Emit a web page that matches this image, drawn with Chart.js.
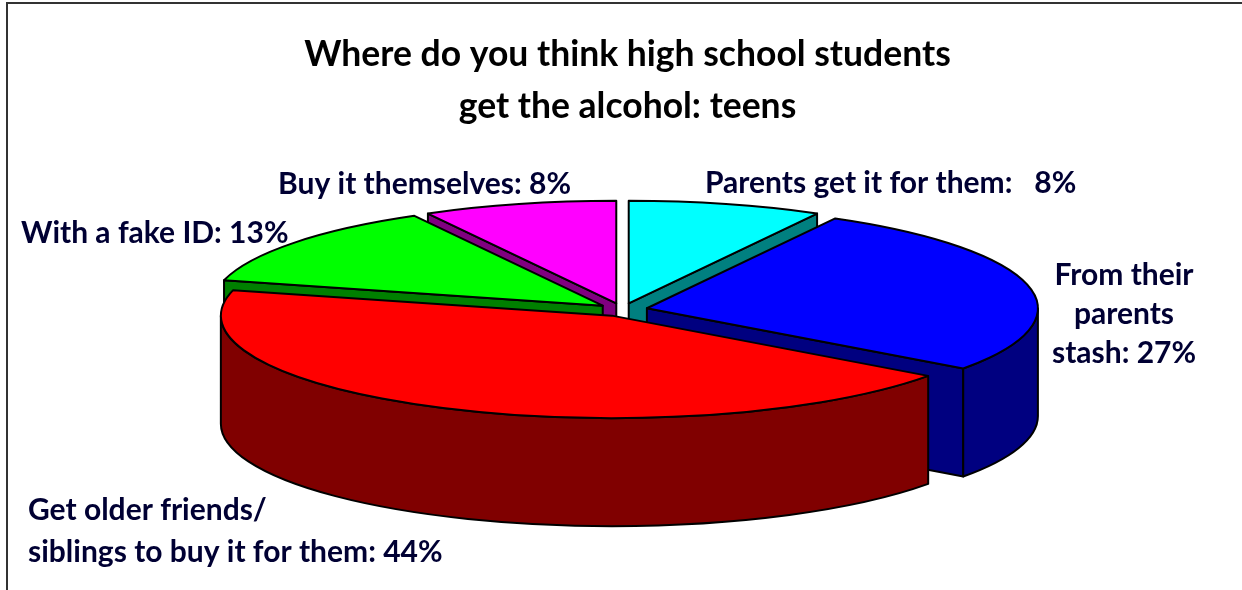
<!DOCTYPE html>
<html>
<head>
<meta charset="utf-8">
<title>Where do you think high school students get the alcohol: teens</title>
<script src="https://cdn.jsdelivr.net/npm/chart.js@4"></script>
<style>
  html, body { margin: 0; padding: 0; background: #fff; overflow: hidden; }
  #wrap { position: absolute; left: 0; top: 0; width: 1242px; height: 590px; }
</style>
</head>
<body>
<div id="wrap"><canvas id="myChart" width="1242" height="590"></canvas></div>
<script>
const titleLines = ['Where do you think high school students', 'get the alcohol: teens'];
const categories = ['Parents get it for them', 'From their parents stash', 'Get older friends/siblings to buy it for them', 'With a fake ID', 'Buy it themselves'];
const shares = [8, 27, 44, 13, 8];
const sliceColors = ['#00ffff', '#0000ff', '#ff0000', '#00ff00', '#ff00ff'];
const wallColors = ['#008080', '#000080', '#800000', '#008000', '#800080'];
const sliceCaptions = [
  ['Parents get it for them:   8%'],
  ['From their', 'parents', 'stash: 27%'],
  ['Get older friends/', 'siblings to buy it for them: 44%'],
  ['With a fake ID: 13%'],
  ['Buy it themselves: 8%']
];

// back to front, so nearer slices cover the walls of the ones behind
const paintOrder = [0, 4, 3, 1, 2];

// where the flat pie gets squashed to
const pie = { cx: 622.5, cy: 309.7, rx: 391, ry: 102.5, depth: 108, explode: 25 / 391 };

// x, first baseline, line step, text align
const captionSpots = [
  { x: 705, y: 193, step: 0, align: 'left' },
  { x: 1124, y: 285, step: 39, align: 'center' },
  { x: 28, y: 520, step: 42, align: 'left' },
  { x: 21, y: 243, step: 0, align: 'left' },
  { x: 278, y: 194, step: 0, align: 'left' }
];

const CAPTION_FONT = 'bold 30px Lato';

function wallPath(ctx, pts) {
  ctx.beginPath();
  pts.forEach((p, i) => i ? ctx.lineTo(p[0], p[1]) : ctx.moveTo(p[0], p[1]));
  ctx.closePath();
}

function drawSlice(ctx, arc, i) {
  const mid = (arc.startAngle + arc.endAngle) / 2;
  const ax = pie.cx + Math.cos(mid) * pie.explode * pie.rx;
  const ay = pie.cy + Math.sin(mid) * pie.explode * pie.ry;
  const rim = a => [ax + Math.cos(a) * pie.rx, ay + Math.sin(a) * pie.ry];
  const d = pie.depth;

  ctx.lineWidth = 2;
  ctx.lineJoin = 'round';
  ctx.strokeStyle = '#000';
  ctx.fillStyle = wallColors[i];

  // the two cut faces, skipping one that turns away from us
  const cutFace = a => {
    const p = rim(a);
    wallPath(ctx, [[ax, ay], p, [p[0], p[1] + d], [ax, ay + d]]);
    ctx.fill();
    ctx.stroke();
  };
  if (Math.cos(arc.startAngle) < -0.001) cutFace(arc.startAngle);
  if (Math.cos(arc.endAngle) > 0.001) cutFace(arc.endAngle);

  // outer wall, only the part facing us
  const lo = Math.max(arc.startAngle, 0);
  const hi = Math.min(arc.endAngle, Math.PI);
  if (lo < hi) {
    ctx.beginPath();
    ctx.ellipse(ax, ay, pie.rx, pie.ry, 0, lo, hi);
    ctx.ellipse(ax, ay + d, pie.rx, pie.ry, 0, hi, lo, true);
    ctx.closePath();
    ctx.fill();
    ctx.stroke();
  }

  // top face: the library's own arc, squashed
  const k = arc.outerRadius;
  ctx.save();
  ctx.translate(ax, ay);
  ctx.scale(pie.rx / k, pie.ry / k);
  ctx.translate(-arc.x, -arc.y);
  arc.draw(ctx);
  ctx.restore();

  ctx.beginPath();
  ctx.moveTo(ax, ay);
  ctx.ellipse(ax, ay, pie.rx, pie.ry, 0, arc.startAngle, arc.endAngle);
  ctx.closePath();
  ctx.stroke();
}

const pie3d = {
  id: 'pie3d',
  beforeDraw(chart) {
    const ctx = chart.ctx;
    ctx.save();
    ctx.strokeStyle = '#333';
    ctx.lineWidth = 2;
    ctx.beginPath();
    ctx.moveTo(7, 590);
    ctx.lineTo(7, 3);
    ctx.lineTo(1242, 3);
    ctx.stroke();
    ctx.restore();
  },
  beforeDatasetsDraw(chart) {
    const ctx = chart.ctx;
    const arcs = chart.getDatasetMeta(0).data;
    ctx.save();
    paintOrder.forEach(i => drawSlice(ctx, arcs[i], i));
    ctx.restore();

    ctx.save();
    ctx.font = CAPTION_FONT;
    ctx.fillStyle = '#000033';
    ctx.textBaseline = 'alphabetic';
    sliceCaptions.forEach((lines, i) => {
      const spot = captionSpots[i];
      ctx.textAlign = spot.align;
      lines.forEach((line, n) => ctx.fillText(line, spot.x, spot.y + n * spot.step));
    });
    ctx.restore();
    return false;
  }
};

new Chart(document.getElementById('myChart').getContext('2d'), {
  type: 'pie',
  data: {
    labels: categories,
    datasets: [{
      data: shares,
      backgroundColor: sliceColors,
      borderWidth: 0
    }]
  },
  options: {
    responsive: false,
    animation: false,
    layout: { padding: { left: 13, top: 0 } },
    plugins: {
      legend: { display: false },
      tooltip: { enabled: false },
      title: {
        display: true,
        text: titleLines,
        color: '#000',
        font: { family: 'Lato', size: 35.5, weight: 'bold', lineHeight: 1.465 },
        padding: { top: 29, bottom: 10 }
      }
    }
  },
  plugins: [pie3d]
});
</script>
</body>
</html>
